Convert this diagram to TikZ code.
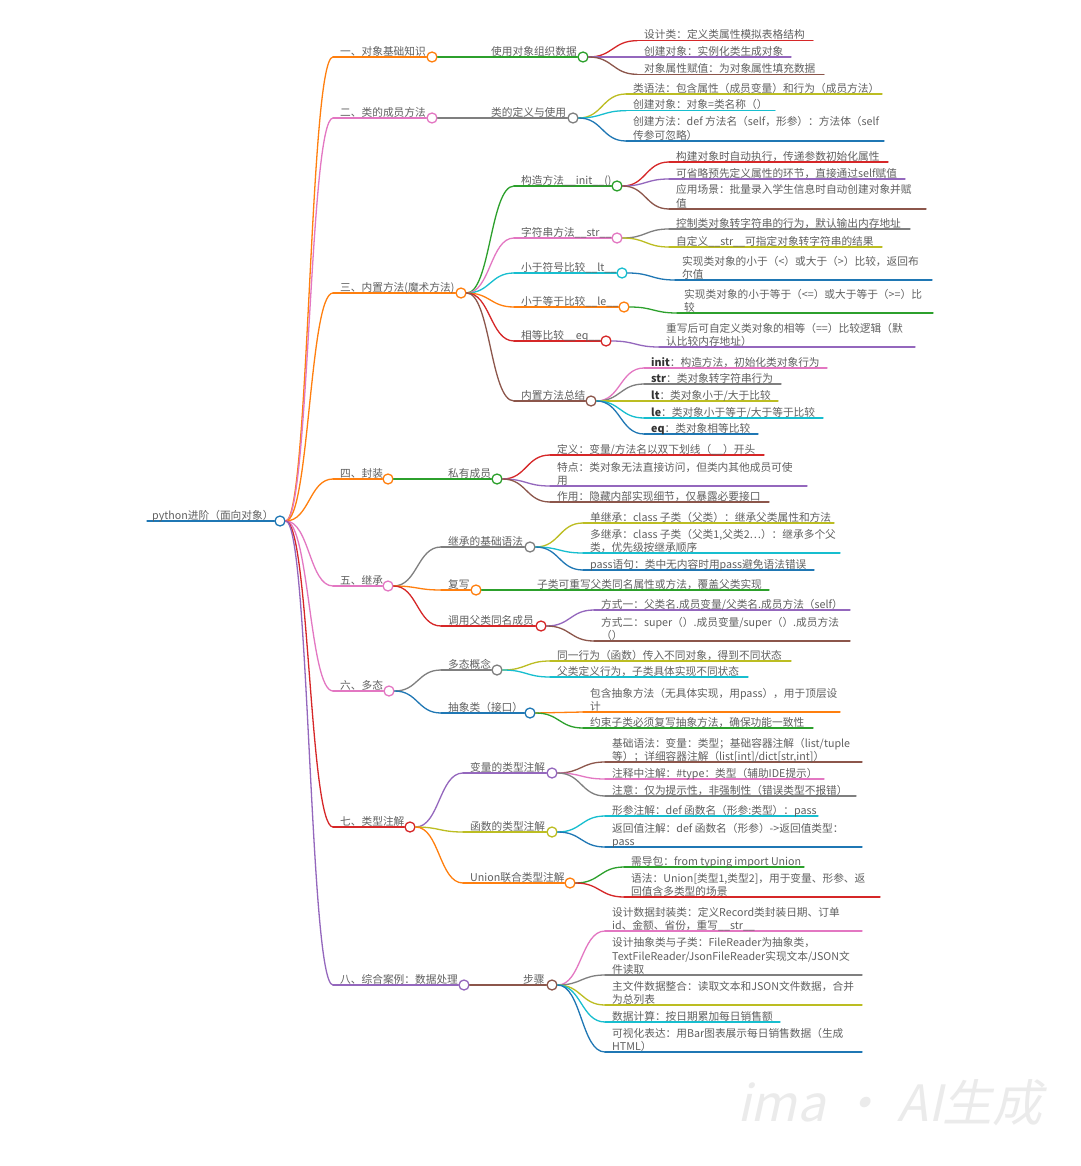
\documentclass[tikz,border=0pt]{standalone}
\usepackage{fontspec}
\setmainfont{Noto Sans CJK SC}
\newfontfamily\wmfont[FakeSlant=0.22]{Noto Sans CJK SC}
\usetikzlibrary{calc}
\definecolor{cblue}{HTML}{1F77B4}
\definecolor{corange}{HTML}{FF7F0E}
\definecolor{cgreen}{HTML}{2CA02C}
\definecolor{cred}{HTML}{D62728}
\definecolor{cpurple}{HTML}{9467BD}
\definecolor{cbrown}{HTML}{8C564B}
\definecolor{cpink}{HTML}{E377C2}
\definecolor{cgray}{HTML}{7F7F7F}
\definecolor{colive}{HTML}{BCBD22}
\definecolor{ccyan}{HTML}{17BECF}
\definecolor{txtgray}{HTML}{606060}
\definecolor{wmgray}{HTML}{EBEBEB}
\tikzset{
  lk/.style={line width=1.3pt, line cap=round},
  dot/.style={circle, fill=white, line width=1.3pt, minimum size=10pt, inner sep=0pt},
  txt/.style={anchor=south west, inner sep=0pt, text depth=2pt, align=left, text=txtgray,
    font=\fontsize{10.7}{13.3}\selectfont},
  wm/.style={text=wmgray, font=\wmfont\fontsize{50}{52}\selectfont, inner sep=0pt}
}
% link from parent circle to child start
\newcommand\mlink[3]{\draw[lk,#1] let \p1=(#2.east), \p2=(#3), \n1={(\x2-\x1)/2} in
  (#2.east) .. controls +(\n1,0) and +(-\n1,0) .. (#3);}
% hub: name, parent, color, startx, y, circlex, textx, text
\newcommand\hub[8]{%
  \coordinate (#1-s) at (#4,#5);
  \node[dot,draw=#3] (#1) at (#6,#5) {};
  \mlink{#3}{#2}{#1-s}
  \draw[lk,#3] (#1-s) -- (#1.west);
  \node[txt] (#1-t) at (#7,{#5+0.5}) {#8};
}
% leaf: name, parent, color, textx, y, endx, text
\newcommand\leaf[7]{%
  \coordinate (#1-s) at ({#4-7},#5);
  \coordinate (#1-e) at (#6,#5);
  \mlink{#3}{#2}{#1-s}
  \draw[lk,#3] (#1-s) -- (#1-e);
  \node[txt] (#1-t) at (#4,{#5+0.5}) {#7};
}
\begin{document}
\begin{tikzpicture}[x=1pt,y=-1pt]
\fill[white] (0,0) rectangle (1080,1166);
\useasboundingbox (0,0) rectangle (1080,1166);
% root
\coordinate (root-s) at (147,521);
\node[dot,draw=cblue] (root) at (280,521) {};
\draw[lk,cblue] (root-s) -- (root.west);
\node[txt] (root-t) at (152,521.5) {python进阶（面向对象）};
% level 1
\hub{a}{root}{corange}{333}{57}{432}{340}{一、对象基础知识}
\hub{b}{root}{cpink}{333}{118}{432}{340}{二、类的成员方法}
\hub{c}{root}{corange}{333}{293}{461}{340}{三、内置方法(魔术方法)}
\hub{d}{root}{corange}{333}{479}{388}{340}{四、封装}
\hub{e}{root}{cpink}{333}{586}{388}{340}{五、继承}
\hub{f}{root}{cpink}{333}{691}{389}{340}{六、多态}
\hub{g}{root}{cred}{333}{827}{410}{340}{七、类型注解}
\hub{h}{root}{cpurple}{333}{985}{464}{340}{八、综合案例：数据处理}
% level 2
\hub{a1}{a}{cgreen}{485}{57}{583}{491}{使用对象组织数据}
\hub{b1}{b}{cgray}{485}{118}{573}{491}{类的定义与使用}
\hub{c1}{c}{cgreen}{514}{186}{617}{521}{构造方法\_\_init\_\_()}
\hub{c2}{c}{cpink}{514}{238}{617}{521}{字符串方法\_\_str\_\_}
\hub{c3}{c}{ccyan}{514}{273}{622}{521}{小于符号比较\_\_lt\_\_}
\hub{c4}{c}{corange}{514}{307}{624}{521}{小于等于比较\_\_le\_\_}
\hub{c5}{c}{cred}{514}{341}{606}{521}{相等比较\_\_eq\_\_}
\hub{c6}{c}{cbrown}{514}{401}{591}{521}{内置方法总结}
\hub{d1}{d}{cgreen}{441}{479}{497}{448}{私有成员}
\hub{e1}{e}{cgray}{441}{547}{530}{448}{继承的基础语法}
\hub{e2}{e}{corange}{441}{590}{476}{448}{复写}
\hub{e3}{e}{cred}{441}{626}{541}{448}{调用父类同名成员}
\hub{f1}{f}{cgray}{441}{670}{497}{448}{多态概念}
\hub{f2}{f}{cblue}{441}{713}{530}{448}{抽象类（接口）}
\hub{g1}{g}{cpurple}{463}{773}{552}{470}{变量的类型注解}
\hub{g2}{g}{colive}{463}{832}{552}{470}{函数的类型注解}
\hub{g3}{g}{corange}{463}{883}{570}{470}{Union联合类型注解}
\hub{h1}{h}{cbrown}{516}{985}{552}{523}{步骤}
% leaves
\leaf{a1a}{a1}{cred}{644}{40.7}{813}{设计类：定义类属性模拟表格结构}
\leaf{a1b}{a1}{cpurple}{644}{57}{791}{创建对象：实例化类生成对象}
\leaf{a1c}{a1}{cbrown}{644}{74.3}{824}{对象属性赋值：为对象属性填充数据}
\leaf{b1a}{b1}{colive}{633}{94}{882}{类语法：包含属性（成员变量）和行为（成员方法）}
\leaf{b1b}{b1}{ccyan}{633}{110.7}{775}{创建对象：对象=类名称（）}
\leaf{b1c}{b1}{cblue}{633}{141}{884}{创建方法：def 方法名（self，形参）：方法体（self\\传参可忽略）}
\leaf{c1a}{c1}{cred}{676}{162}{888}{构建对象时自动执行，传递参数初始化属性}
\leaf{c1b}{c1}{cpurple}{676}{179}{905}{可省略预先定义属性的环节，直接通过self赋值}
\leaf{c1c}{c1}{cbrown}{676}{209}{926}{应用场景：批量录入学生信息时自动创建对象并赋\\值}
\leaf{c2a}{c2}{cgray}{676}{229}{910}{控制类对象转字符串的行为，默认输出内存地址}
\leaf{c2b}{c2}{colive}{676}{247}{882}{自定义\_\_str\_\_可指定对象转字符串的结果}
\leaf{c3a}{c3}{cblue}{682}{280}{932}{实现类对象的小于（<）或大于（>）比较，返回布\\尔值}
\leaf{c4a}{c4}{cgreen}{684}{313}{933}{实现类对象的小于等于（<=）或大于等于（>=）比\\较}
\leaf{c5a}{c5}{cpurple}{666}{347}{915}{重写后可自定义类对象的相等（==）比较逻辑（默\\认比较内存地址）}
\leaf{c6a}{c6}{cpink}{651}{368}{827}{\textcolor{black!80}{\textbf{init}}：构造方法，初始化类对象行为}
\leaf{c6b}{c6}{cgray}{651}{384}{781}{\textcolor{black!80}{\textbf{str}}：类对象转字符串行为}
\leaf{c6c}{c6}{colive}{651}{401}{778}{\textcolor{black!80}{\textbf{lt}}：类对象小于/大于比较}
\leaf{c6d}{c6}{ccyan}{651}{418}{823}{\textcolor{black!80}{\textbf{le}}：类对象小于等于/大于等于比较}
\leaf{c6e}{c6}{cblue}{651}{434}{758}{\textcolor{black!80}{\textbf{eq}}：类对象相等比较}
\leaf{d1a}{d1}{cred}{557}{455}{764}{定义：变量/方法名以双下划线（\_\_）开头}
\leaf{d1b}{d1}{cpurple}{557}{486}{807}{特点：类对象无法直接访问，但类内其他成员可使\\用}
\leaf{d1c}{d1}{cbrown}{557}{502}{769}{作用：隐藏内部实现细节，仅暴露必要接口}
\leaf{e1a}{e1}{colive}{590}{523}{834}{单继承：class 子类（父类）：继承父类属性和方法}
\leaf{e1b}{e1}{ccyan}{590}{553}{840}{多继承：class 子类（父类1,父类2…）：继承多个父\\类，优先级按继承顺序}
\leaf{e1c}{e1}{cblue}{590}{570}{814}{pass语句：类中无内容时用pass避免语法错误}
\leaf{e2a}{e2}{cgreen}{537}{590}{769}{子类可重写父类同名属性或方法，覆盖父类实现}
\leaf{e3a}{e3}{cpurple}{601}{610}{850}{方式一：父类名.成员变量/父类名.成员方法（self）}
\leaf{e3b}{e3}{cbrown}{601}{641}{850}{方式二：super（）.成员变量/super（）.成员方法\\（）}
\leaf{f1a}{f1}{colive}{557}{661}{791}{同一行为（函数）传入不同对象，得到不同状态}
\leaf{f1b}{f1}{ccyan}{557}{677}{748}{父类定义行为，子类具体实现不同状态}
\leaf{f2a}{f2}{corange}{590}{712}{840}{包含抽象方法（无具体实现，用pass），用于顶层设\\计}
\leaf{f2b}{f2}{cgreen}{590}{728}{813}{约束子类必须复写抽象方法，确保功能一致性}
\leaf{g1a}{g1}{cbrown}{612}{762}{862}{基础语法：变量：类型；基础容器注解（list/tuple\\等）；详细容器注解（list[int]/dict[str,int]）}
\leaf{g1b}{g1}{cpink}{612}{779}{824}{注释中注解：\#type：类型（辅助IDE提示）}
\leaf{g1c}{g1}{cgray}{612}{796}{856}{注意：仅为提示性，非强制性（错误类型不报错）}
\leaf{g2a}{g2}{ccyan}{612}{816}{818}{形参注解：def 函数名（形参:类型）：pass}
\leaf{g2b}{g2}{cblue}{612}{847}{862}{返回值注解：def 函数名（形参）->返回值类型：\\pass}
\leaf{g3a}{g3}{cgreen}{631}{867}{804}{需导包：from typing import Union}
\leaf{g3b}{g3}{cred}{631}{897}{880}{语法：Union[类型1,类型2]，用于变量、形参、返\\回值含多类型的场景}
\leaf{h1a}{h1}{cpink}{612}{931}{862}{设计数据封装类：定义Record类封装日期、订单\\id、金额、省份，重写\_\_str\_\_}
\leaf{h1b}{h1}{cgray}{612}{975}{862}{设计抽象类与子类：FileReader为抽象类，\\TextFileReader/JsonFileReader实现文本/JSON文\\件读取}
\leaf{h1c}{h1}{colive}{612}{1005}{862}{主文件数据整合：读取文本和JSON文件数据，合并\\为总列表}
\leaf{h1d}{h1}{ccyan}{612}{1022}{780}{数据计算：按日期累加每日销售额}
\leaf{h1e}{h1}{cblue}{612}{1052}{862}{可视化表达：用Bar图表展示每日销售数据（生成\\HTML）}
% watermark
\node[wm] (wm) at (890,1103) {ima · AI生成};
\end{tikzpicture}
\end{document}
